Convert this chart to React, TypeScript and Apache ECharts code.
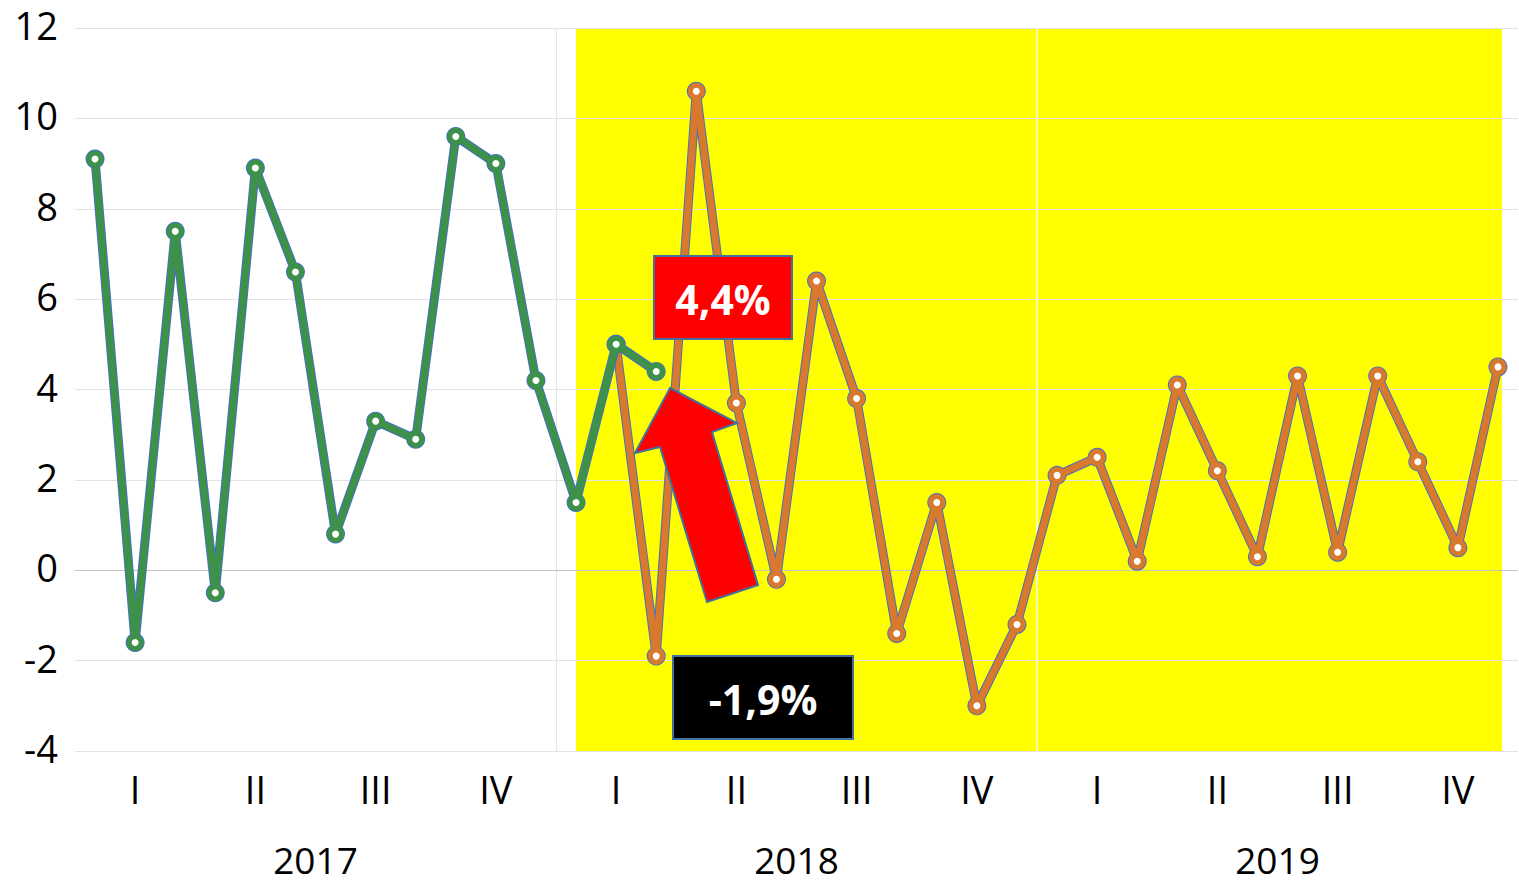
import React, { useEffect, useRef } from "react";
import * as echarts from "echarts";

const years = ["2017", "2018", "2019"];
const quarterLabels = ["I", "II", "III", "IV"];
const categories = years.flatMap((y) =>
  Array.from({ length: 12 }, (_, m) => `${y}-${String(m + 1).padStart(2, "0")}`)
);

// monthly growth, % (green = actual until early 2018, orange = from 2018)
const greenValues = [9.1, -1.6, 7.5, -0.5, 8.9, 6.6, 0.8, 3.3, 2.9, 9.6, 9.0, 4.2, 1.5, 5.0, 4.4];
const orangeStart = 13;
const orangeValues = [
  5.0, -1.9, 10.6, 3.7, -0.2, 6.4, 3.8, -1.4, 1.5, -3.0, -1.2, 2.1, 2.5, 0.2, 4.1, 2.2, 0.3,
  4.3, 0.4, 4.3, 2.4, 0.5, 4.5,
];
const highlightRange = [12.5, 35.6]; // in month units
const yearSeparators = [12, 24];
const yTicks = { min: -4, max: 12, interval: 2 };

const FONT = "Open Sans";
const GREEN = "#3d9148";
const ORANGE = "#d8792e";
const EDGE = "#4472c4";

export default function App() {
  const ref = useRef<HTMLDivElement>(null);
  useEffect(() => {
    const chart = echarts.init(ref.current!, null, { renderer: "svg" });
    const greenData = categories.map((_, i) => (i < greenValues.length ? greenValues[i] : null));
    const orangeData = categories.map((_, i) =>
      i >= orangeStart ? orangeValues[i - orangeStart] : null
    );
    const under = (data: any[], z: number) => ({
      type: "line",
      data,
      z,
      symbol: "circle",
      symbolSize: 19,
      lineStyle: { width: 9, color: EDGE },
      itemStyle: { color: EDGE },
      silent: true,
    });
    const top = (data: any[], color: string, z: number) => ({
      type: "line",
      data,
      z,
      symbol: "circle",
      symbolSize: 12,
      lineStyle: { width: 7, color },
      itemStyle: { color: "#ffffff", borderColor: color, borderWidth: 5 },
      silent: true,
    });
    chart.setOption({
      animation: false,
      backgroundColor: "#ffffff",
      grid: { left: 75, right: 1, top: 28, bottom: 134 },
      xAxis: [
        {
          type: "category",
          data: categories,
          boundaryGap: true,
          axisLine: { show: false },
          axisTick: { show: false },
          axisLabel: {
            interval: (i: number) => i % 3 === 1,
            formatter: (_v: string, i: number) => quarterLabels[Math.floor((i % 12) / 3)],
            fontFamily: FONT,
            fontSize: 38,
            lineHeight: 38,
            color: "#000",
            margin: 19,
          },
          splitLine: { show: false },
        },
        {
          type: "category",
          data: years,
          position: "bottom",
          offset: 70,
          axisLine: { show: false },
          axisTick: { show: false },
          axisLabel: {
            fontFamily: FONT,
            fontSize: 37,
            lineHeight: 26,
            color: "#000",
            margin: 25,
          },
        },
        { type: "value", min: 0, max: 36, show: false },
      ],
      yAxis: {
        type: "value",
        min: yTicks.min,
        max: yTicks.max,
        interval: yTicks.interval,
        z: 3,
        axisLine: { show: false },
        axisTick: { show: false },
        axisLabel: {
          fontFamily: FONT,
          fontSize: 38,
          color: "#000",
          margin: 17,
          lineHeight: 6,
          verticalAlign: "bottom",
        },
        splitLine: { lineStyle: { color: "#e3e3e3", width: 1 } },
      },
      series: [
        {
          type: "scatter",
          xAxisIndex: 2,
          data: [],
          z: 1,
          silent: true,
          markArea: {
            silent: true,
            itemStyle: { color: "#ffff00" },
            data: [[{ xAxis: highlightRange[0] }, { xAxis: highlightRange[1] }]],
          },
        },
        {
          type: "scatter",
          xAxisIndex: 2,
          data: [],
          z: 4,
          silent: true,
          markLine: {
            silent: true,
            symbol: "none",
            label: { show: false },
            data: [
              { xAxis: yearSeparators[0], lineStyle: { color: "#e6e6e6", width: 1, type: "solid" } },
              { xAxis: yearSeparators[1], lineStyle: { color: "#f4f4f4", width: 1.5, type: "solid" } },
              { yAxis: 0, lineStyle: { color: "#c4c4c4", width: 1, type: "solid" } },
            ],
          },
        },
        under(orangeData, 5),
        top(orangeData, ORANGE, 6),
        under(greenData, 7),
        top(greenData, GREEN, 8),
      ],
      graphic: [
        {
          type: "polygon",
          z: 100,
          shape: {
            points: [
              [670, 388],
              [737, 423],
              [712, 432],
              [758, 585],
              [707, 602],
              [660, 447],
              [635, 453],
            ],
          },
          style: { fill: "#ff0000", stroke: "#41719c", lineWidth: 2 },
        },
        {
          type: "rect",
          z: 100,
          shape: { x: 654, y: 256, width: 138, height: 83 },
          style: { fill: "#ff0000", stroke: "#41719c", lineWidth: 2 },
        },
        {
          type: "text",
          z: 101,
          x: 723,
          y: 299,
          style: {
            text: "4,4%",
            fill: "#ffffff",
            font: `bold 41px "${FONT}"`,
            align: "center",
            verticalAlign: "middle",
          },
        },
        {
          type: "rect",
          z: 100,
          shape: { x: 673, y: 656, width: 180, height: 83 },
          style: { fill: "#000000", stroke: "#41719c", lineWidth: 2 },
        },
        {
          type: "text",
          z: 101,
          x: 763,
          y: 699,
          style: {
            text: "-1,9%",
            fill: "#ffffff",
            font: `bold 41px "${FONT}"`,
            align: "center",
            verticalAlign: "middle",
          },
        },
      ],
    });
    return () => chart.dispose();
  }, []);
  return (
    <div
      ref={ref}
      style={{ position: "fixed", left: 0, top: 0, width: "1519px", height: "885px" }}
    />
  );
}
